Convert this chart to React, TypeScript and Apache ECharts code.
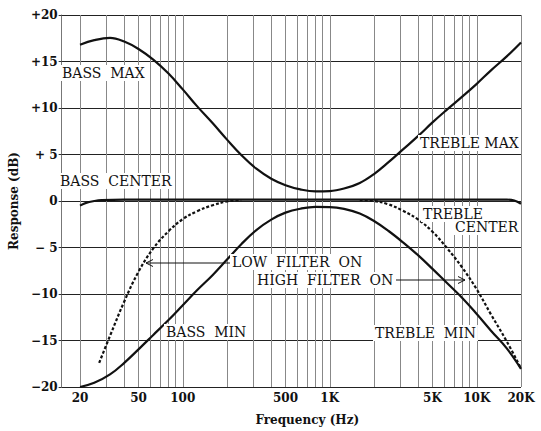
import React, { useEffect, useRef } from "react";
import * as echarts from "echarts";

// ---- axis definitions ----
const xMinHz = 15;
const xMaxHz = 20000;
const gridFreqs = [
  20, 30, 40, 50, 60, 70, 80, 90, 100,
  200, 300, 400, 500, 600, 700, 800, 900, 1000,
  2000, 3000, 4000, 5000, 6000, 7000, 8000, 9000, 10000, 20000,
];
const xTickFreqs = [20, 50, 100, 500, 1000, 5000, 10000, 20000];
const xTickLabels = ["20", "50", "100", "500", "1K", "5K", "10K", "20K"];
const yTickValues = [-20, -15, -10, -5, 0, 5, 10, 15, 20];
const yTickLabels = ["−20", "−15", "−10", "− 5", "0", "+ 5", "+10", "+15", "+20"];

// ---- curves: [frequency Hz, response dB] ----
const bassTrebleMax: [number, number][] = [
  [20, 16.8], [25, 17.3], [32, 17.55], [40, 17.15], [50, 16.35], [63, 15.2],
  [80, 13.7], [100, 12.0], [125, 10.2], [160, 8.35], [200, 6.6], [250, 4.95],
  [315, 3.5], [400, 2.4], [500, 1.7], [630, 1.25], [800, 1.03], [1000, 1.06],
  [1250, 1.34], [1600, 1.94], [2000, 2.9], [2500, 4.15], [3150, 5.55],
  [4000, 7.0], [5000, 8.45], [6300, 9.85], [8000, 11.25], [10000, 12.6],
  [12500, 14.05], [16000, 15.55], [20000, 17.05],
];
const bassTrebleCenter: [number, number][] = [
  [20, -0.5], [22, -0.2], [25, 0.0], [28, 0.1], [40, 0.15], [100, 0.15],
  [1000, 0.15], [10000, 0.15], [16000, 0.15], [18000, 0.05], [20000, -0.3],
];
const bassTrebleMin: [number, number][] = [
  [20, -20], [25, -19.55], [32, -18.65], [40, -17.4], [50, -15.95], [63, -14.4],
  [80, -12.8], [100, -11.2], [125, -9.6], [160, -7.95], [200, -6.3],
  [250, -4.65], [315, -3.15], [400, -2.0], [500, -1.25], [630, -0.83],
  [800, -0.63], [1000, -0.65], [1250, -0.85], [1600, -1.35], [2000, -2.15],
  [2500, -3.2], [3150, -4.45], [4000, -5.85], [5000, -7.3], [6300, -8.85],
  [8000, -10.45], [10000, -12.15], [12500, -13.95], [16000, -15.85],
  [20000, -18.05],
];
const lowFilterOn: [number, number][] = [
  [27, -17.4], [32, -14.5], [40, -10.8], [50, -7.6], [63, -5.1], [80, -3.25],
  [100, -1.95], [125, -1.1], [160, -0.45], [200, -0.05], [250, 0.1],
];
const highFilterOn: [number, number][] = [
  [1600, 0.1], [2000, 0.0], [2500, -0.35], [3150, -1.05], [4000, -2.0],
  [5000, -3.3], [6300, -5.1], [8000, -7.2], [10000, -9.5], [12500, -12.2],
  [16000, -15.1], [20000, -18.0],
];

const lg = Math.log10;
const toXY = (pts: [number, number][]) => pts.map(([f, d]) => [lg(f), d]);

const FONT = '"DejaVu Serif", serif';

function annot(text: string, x: number, y: number) {
  return {
    type: "text",
    x,
    y,
    z: 100,
    style: {
      text,
      font: `14px ${FONT}`,
      fill: "#111",
      verticalAlign: "middle",
      align: "left",
      backgroundColor: "#fff",
      padding: [1, 2],
    },
  };
}

export default function App() {
  const ref = useRef<HTMLDivElement>(null);
  useEffect(() => {
    if (!ref.current) return;
    const chart = echarts.init(ref.current, null, { renderer: "svg" });
    const curve = (name: string, data: [number, number][], dotted = false) => ({
      name,
      type: "line",
      data: toXY(data),
      showSymbol: false,
      smooth: 0.4,
      z: 5,
      lineStyle: {
        color: "#111",
        width: 2.2,
        type: dotted ? [3, 2] : "solid",
      },
    });
    chart.setOption({
      animation: false,
      backgroundColor: "#fff",
      grid: { left: 55, right: 20, top: 15, bottom: 43 },
      xAxis: {
        type: "value",
        min: lg(xMinHz),
        max: lg(xMaxHz),
        name: "Frequency (Hz)",
        nameLocation: "middle",
        nameGap: 27,
        nameTextStyle: {
          fontFamily: FONT,
          fontSize: 12,
          fontWeight: "bold",
          color: "#111",
          padding: [0, 0, 0, 32],
        },
        axisLine: { show: false },
        axisTick: { show: false },
        splitLine: { show: false },
        axisLabel: {
          customValues: xTickFreqs.map(lg),
          formatter: (v: number) => {
            const i = xTickFreqs.findIndex((f) => Math.abs(lg(f) - v) < 1e-6);
            return i >= 0 ? xTickLabels[i] : "";
          },
          fontFamily: FONT,
          fontSize: 12,
          fontWeight: "bold",
          color: "#111",
          margin: 5,
        },
      },
      yAxis: {
        type: "value",
        min: -20,
        max: 20,
        interval: 5,
        name: "Response (dB)",
        nameLocation: "middle",
        nameGap: 36,
        nameRotate: 90,
        nameTextStyle: {
          fontFamily: FONT,
          fontSize: 12,
          fontWeight: "bold",
          color: "#111",
        },
        axisLine: { show: true, lineStyle: { color: "#777", width: 1 } },
        axisTick: { show: true, length: 3, lineStyle: { color: "#333" } },
        splitLine: { show: true, lineStyle: { color: "#222", width: 1 } },
        axisLabel: {
          formatter: (v: number) => {
            const i = yTickValues.indexOf(v);
            return i >= 0 ? yTickLabels[i] : "";
          },
          fontFamily: FONT,
          fontSize: 12,
          fontWeight: "bold",
          color: "#111",
          margin: 4,
        },
      },
      series: [
        {
          name: "grid",
          type: "line",
          data: [],
          z: 1,
          silent: true,
          markLine: {
            silent: true,
            symbol: ["none", "none"],
            label: { show: false },
            lineStyle: { color: "#888", width: 1, type: "solid" },
            data: gridFreqs.map((f) => ({ xAxis: lg(f) })),
          },
        },
        curve("Bass/Treble Max", bassTrebleMax),
        curve("Bass/Treble Center", bassTrebleCenter),
        curve("Bass/Treble Min", bassTrebleMin),
        curve("Low Filter On", lowFilterOn, true),
        curve("High Filter On", highFilterOn, true),
      ],
      graphic: [
        annot("BASS  MAX", 60, 73),
        annot("BASS  CENTER", 58, 181),
        annot("TREBLE MAX", 418, 143),
        annot("TREBLE", 421, 214),
        annot("CENTER", 453, 227),
        annot("LOW  FILTER  ON", 230, 262),
        annot("HIGH  FILTER  ON", 255, 280),
        annot("BASS  MIN", 164, 332),
        annot("TREBLE  MIN", 373, 333),
        {
          type: "line",
          z: 99,
          shape: { x1: 146, y1: 263, x2: 231, y2: 263 },
          style: { stroke: "#111", lineWidth: 1 },
        },
        {
          type: "polyline",
          z: 99,
          shape: { points: [[153, 259.5], [146, 263], [153, 266.5]] },
          style: { stroke: "#111", fill: null, lineWidth: 1 },
        },
        {
          type: "line",
          z: 99,
          shape: { x1: 396, y1: 280, x2: 465, y2: 280 },
          style: { stroke: "#111", lineWidth: 1 },
        },
        {
          type: "polyline",
          z: 99,
          shape: { points: [[458, 276.5], [465, 280], [458, 283.5]] },
          style: { stroke: "#111", fill: null, lineWidth: 1 },
        },
      ],
    });
    return () => chart.dispose();
  }, []);
  return (
    <div
      ref={ref}
      style={{ position: "fixed", left: 0, top: 0, width: 541, height: 431, background: "#fff" }}
    />
  );
}
